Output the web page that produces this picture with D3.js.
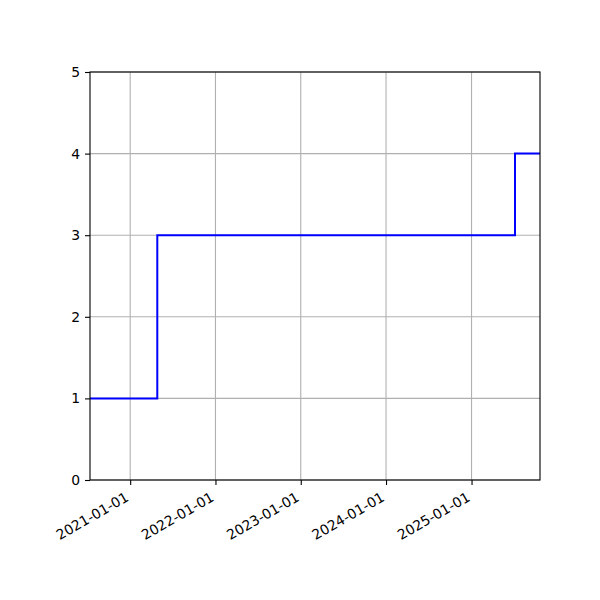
<!DOCTYPE html>
<html lang="en">
<head>
  <meta charset="UTF-8">
  <title>Step chart</title>
  <script src="https://d3js.org/d3.v7.min.js"></script>
  <style>
    body { margin: 0; background: white; }
    svg { display: block; font-family: "DejaVu Sans", sans-serif; }
  </style>
</head>
<body>
  <div id="viz"></div>
  <script>
    // data
    const stepDates = ["2020-07-13", "2021-04-27", "2025-07-06", "2025-10-21"];
    const stepValues = [1, 3, 4, 4];
    const xTickLabels = ["2021-01-01", "2022-01-01", "2023-01-01", "2024-01-01", "2025-01-01"];
    const yTicks = [0, 1, 2, 3, 4, 5];

    const svgWidth = 600, svgHeight = 600;
    const margin = { top: 72, right: 60, bottom: 120, left: 90 };
    const width = svgWidth - margin.left - margin.right;
    const height = svgHeight - margin.top - margin.bottom;

    const parse = d3.utcParse("%Y-%m-%d");
    const points = stepDates.map((d, i) => ({ date: parse(d), value: stepValues[i] }));

    const svg = d3.select("#viz").append("svg")
      .attr("width", svgWidth)
      .attr("height", svgHeight)
      .append("g")
      .attr("transform", `translate(${margin.left},${margin.top})`);

    const x = d3.scaleUtc()
      .domain(d3.extent(points, d => d.date))
      .range([0, width]);

    const y = d3.scaleLinear()
      .domain([0, 5])
      .range([height, 0]);

    const xTicks = xTickLabels.map(parse);

    // Grid
    svg.append("g")
      .selectAll("line")
      .data(xTicks)
      .enter()
      .append("line")
      .attr("x1", d => x(d)).attr("x2", d => x(d))
      .attr("y1", 0).attr("y2", height)
      .attr("stroke", "#b0b0b0")
      .attr("stroke-width", 1.1);

    svg.append("g")
      .selectAll("line")
      .data(yTicks)
      .enter()
      .append("line")
      .attr("x1", 0).attr("x2", width)
      .attr("y1", d => y(d)).attr("y2", d => y(d))
      .attr("stroke", "#b0b0b0")
      .attr("stroke-width", 1.1);

    // Step line
    const line = d3.line()
      .x(d => x(d.date))
      .y(d => y(d.value))
      .curve(d3.curveStepAfter);

    svg.append("path")
      .datum(points)
      .attr("fill", "none")
      .attr("stroke", "#0000ff")
      .attr("stroke-width", 2)
      .attr("d", line);

    // Axes
    const xAxis = svg.append("g")
      .attr("transform", `translate(0,${height})`)
      .call(d3.axisBottom(x).tickValues(xTicks).tickSize(5).tickFormat(d3.utcFormat("%Y-%m-%d")));
    xAxis.select(".domain").remove();
    xAxis.selectAll(".tick line").attr("stroke", "#000").attr("stroke-width", 1.1);
    xAxis.selectAll(".tick text")
      .attr("font-size", "13.9px")
      .attr("font-family", "DejaVu Sans")
      .attr("fill", "#000")
      .attr("text-anchor", "end")
      .attr("y", 0)
      .attr("dy", 0)
      .attr("transform", "translate(-1,20) rotate(-30)");

    const yAxis = svg.append("g")
      .call(d3.axisLeft(y).tickValues(yTicks).tickSize(5).tickPadding(5).tickFormat(d3.format("d")));
    yAxis.select(".domain").remove();
    yAxis.selectAll(".tick line").attr("stroke", "#000").attr("stroke-width", 1.1);
    yAxis.selectAll(".tick text")
      .attr("font-size", "13.9px")
      .attr("font-family", "DejaVu Sans")
      .attr("fill", "#000");

    // Frame
    svg.append("rect")
      .attr("width", width)
      .attr("height", height)
      .attr("fill", "none")
      .attr("stroke", "#000")
      .attr("stroke-width", 1.1);
  </script>
</body>
</html>
